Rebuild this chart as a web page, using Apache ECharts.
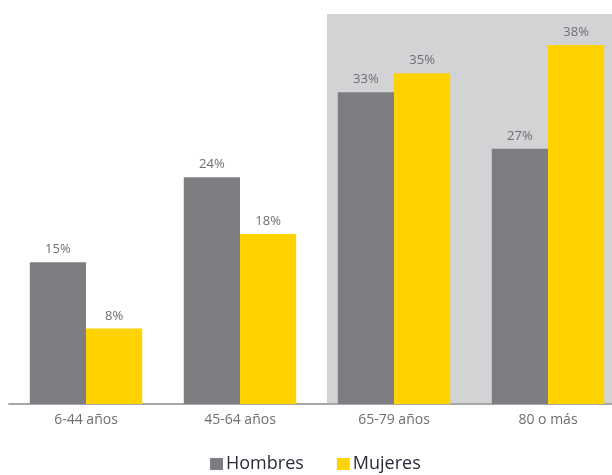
<!DOCTYPE html>
<html><head><meta charset="utf-8">
<script src="https://cdn.jsdelivr.net/npm/echarts@6/dist/echarts.min.js"></script>
<style>html,body{margin:0;padding:0;background:#fff}#c{width:612px;height:475px}</style>
</head><body><div id="c"></div>
<script>
const categories = ['6-44 años', '45-64 años', '65-79 años', '80 o más'];
const hombres = [15, 24, 33, 27];
const mujeres = [8, 18, 35, 38];
const seriesNames = ['Hombres', 'Mujeres'];

const chart = echarts.init(document.getElementById('c'));
const lbl = {show: true, position: 'top', formatter: '{c}%', color: '#6d6e71', fontSize: 13, fontFamily: 'Open Sans', distance: 6};
chart.setOption({
  animation: false,
  graphic: [{type: 'rect', z: -10, shape: {x: 327, y: 14, width: 285, height: 390}, style: {fill: '#d2d3d5'}}],
  grid: {left: 9, width: 616, top: 26, bottom: 71, outerBoundsMode: 'none', containLabel: false},
  legend: {top: 455, left: 210, padding: 0, itemWidth: 13, itemHeight: 12, itemGap: 33, icon: 'rect',
    textStyle: {color: '#2e2a3a', fontSize: 18, fontFamily: 'Open Sans', padding: [0, 0, 0, -2]}, data: seriesNames},
  xAxis: {type: 'category', data: categories,
    axisLine: {lineStyle: {color: '#a7a7a9', width: 2}}, axisTick: {show: false},
    axisLabel: {color: '#6d6e71', fontSize: 14, fontFamily: 'Open Sans', margin: 9}},
  yAxis: {type: 'value', min: 0, max: 40, show: false, splitLine: {show: false}},
  series: [
    {name: seriesNames[0], type: 'bar', data: hombres, barGap: '0%', barCategoryGap: '27%', itemStyle: {color: '#7e7d82'}, label: lbl},
    {name: seriesNames[1], type: 'bar', data: mujeres, itemStyle: {color: '#ffd200'}, label: lbl}
  ]
});
</script></body></html>
